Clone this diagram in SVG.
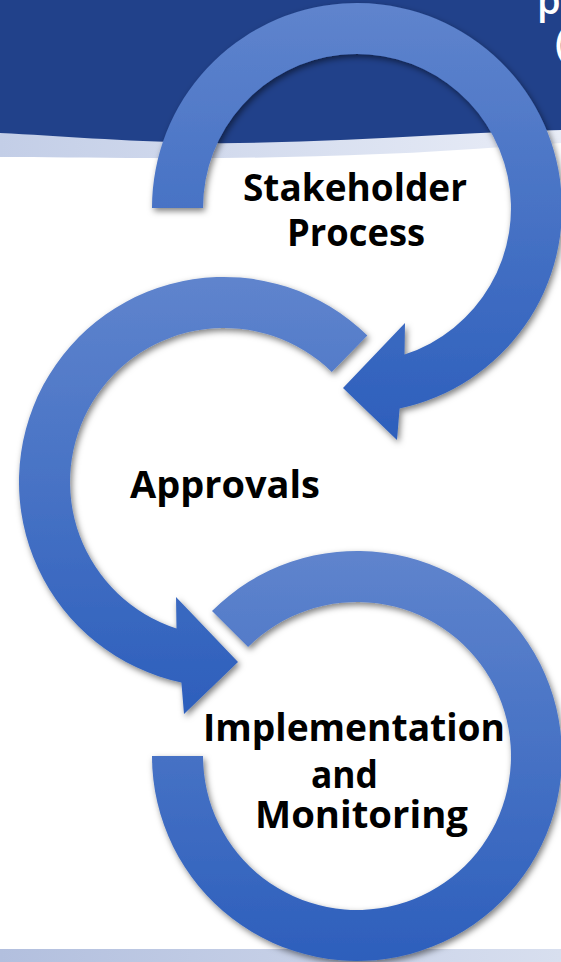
<svg xmlns="http://www.w3.org/2000/svg" width="561" height="962" viewBox="0 0 561 962">
  <defs>
    <linearGradient id="ringGrad" x1="0" y1="0" x2="0" y2="1">
      <stop offset="0" stop-color="#5f84cd"/>
      <stop offset="1" stop-color="#2d5fbc"/>
    </linearGradient>
    <linearGradient id="bandTop" x1="0" y1="0" x2="1" y2="0">
      <stop offset="0" stop-color="#c3cee7"/>
      <stop offset="1" stop-color="#e9edf7"/>
    </linearGradient>
    <linearGradient id="bandBottom" x1="0" y1="0" x2="1" y2="0">
      <stop offset="0" stop-color="#b2bfde"/>
      <stop offset="1" stop-color="#d8dfef"/>
    </linearGradient>
    <filter id="shadow" x="-10%" y="-10%" width="125%" height="125%">
      <feDropShadow dx="2" dy="3" stdDeviation="3" flood-color="#000" flood-opacity="0.5"/>
    </filter>
  </defs>
  <style>
    .ring { fill: url(#ringGrad); filter: url(#shadow); }
    .label { font-family: "Open Sans", "Noto Sans", "Liberation Sans", sans-serif; font-weight: 700; font-size: 38px; fill: #000; text-anchor: middle; }
    .title { font-family: "Open Sans", "Noto Sans", "Liberation Sans", sans-serif; font-weight: 600; font-size: 38px; fill: #fff; }
  </style>

  <rect x="0" y="0" width="561" height="962" fill="#ffffff"/>

  <g id="background">
    <path d="M0,0 H561 V143 C500,147 440,152 380,154 C300,157 220,159 150,158 C90,158 40,157 0,157 Z" fill="url(#bandTop)"/>
    <path d="M0,0 H561 V130 C520,131 480,133 440,135 C360,139 280,144 200,143 C120,141 60,136 0,133 Z" fill="#21418a"/>
    <text class="title" x="537" y="14">p</text>
    <text class="title" x="555" y="56">(</text>
    <rect x="0" y="949" width="561" height="13" fill="url(#bandBottom)"/>
  </g>

  <g id="connectors">
  </g>

  <g id="node-stakeholder">
    <path class="ring" d="M152,208 A205,205 0 1 1 399.6,408.5 L397,440 L343,388 L405,323 L404.5,354.5 A154,154 0 1 0 203,208 Z"/>
    <text class="label" x="355" y="201" textLength="224" lengthAdjust="spacingAndGlyphs">Stakeholder</text>
    <text class="label" x="356" y="246" textLength="138" lengthAdjust="spacingAndGlyphs">Process</text>
  </g>

  <g id="node-approvals">
    <path class="ring" d="M367.4,335.5 A205,205 0 1 0 181.4,682.5 L184,714 L238,662 L176,597 L176.5,628.5 A154,154 0 1 1 331.8,372 Z"/>
    <text class="label" x="225" y="498" textLength="190" lengthAdjust="spacingAndGlyphs">Approvals</text>
  </g>

  <g id="node-implementation">
    <path class="ring" d="M212,611 A205,205 0 1 1 152,756 L203,756 A154,154 0 1 0 248.1,647.1 Z"/>
    <text class="label" x="354" y="741" textLength="302" lengthAdjust="spacingAndGlyphs">Implementation</text>
    <text class="label" x="344.5" y="788" textLength="67" lengthAdjust="spacingAndGlyphs">and</text>
    <text class="label" x="361.5" y="828" textLength="213" lengthAdjust="spacingAndGlyphs">Monitoring</text>
  </g>
</svg>
